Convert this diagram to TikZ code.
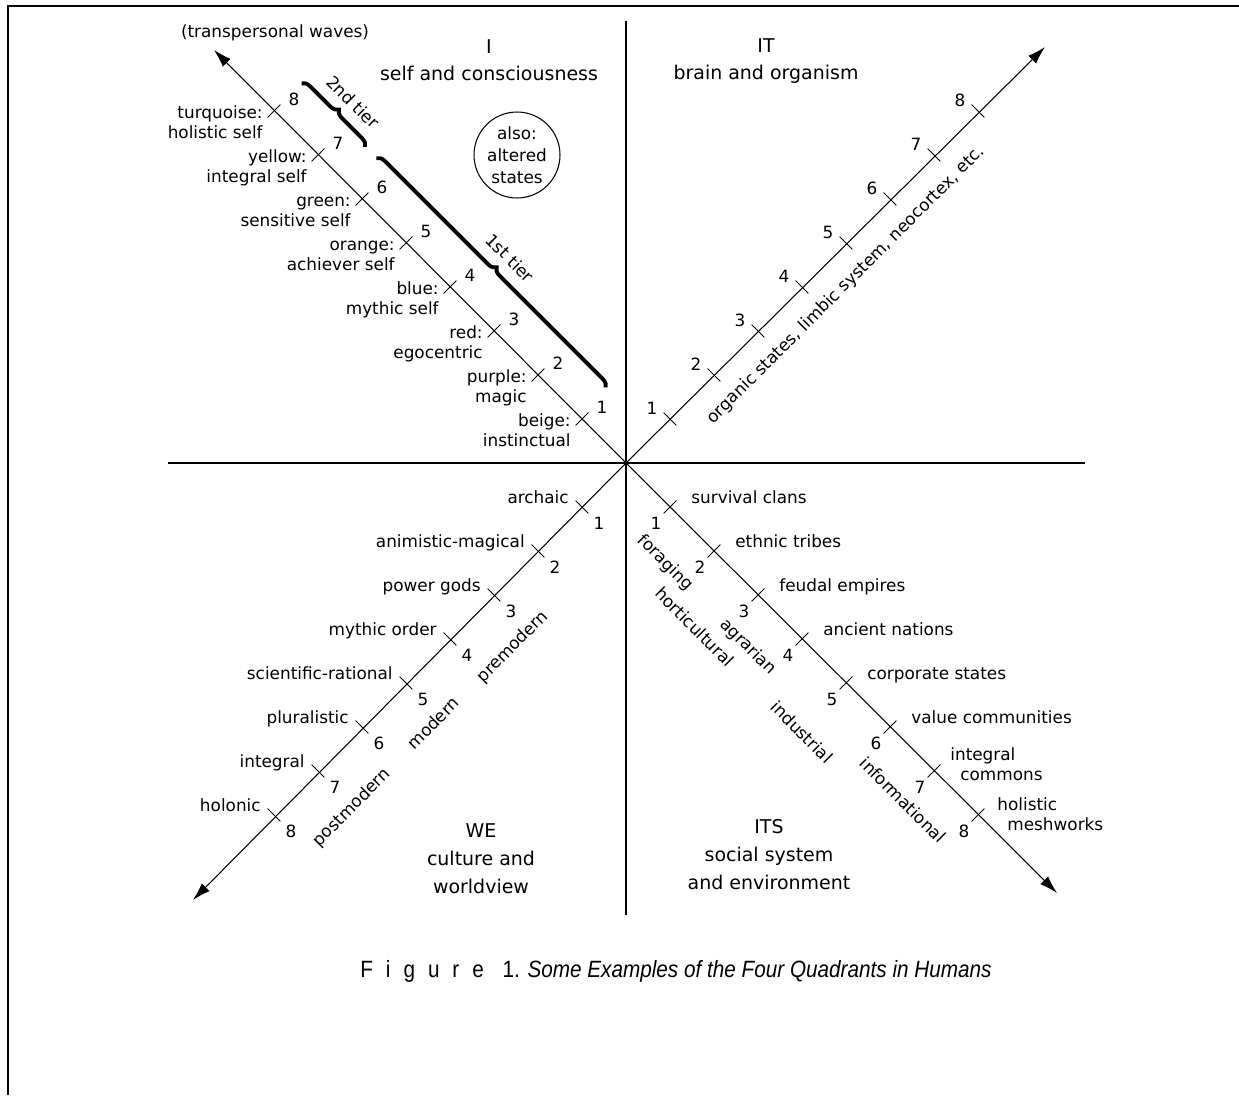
\documentclass[tikz,border=0pt]{standalone}
\usepackage{fontspec}
\setmainfont{DejaVu Sans}
\newfontfamily\capfont[FakeStretch=0.88]{Liberation Sans}
\usetikzlibrary{arrows.meta,positioning,calc,decorations.pathreplacing}

\begin{document}
\begin{tikzpicture}[
    x=0.02cm, y=-0.02cm,
    every node/.style={font=\fontsize{9.6}{11.3}\selectfont, inner sep=0pt},
    frame/.style={line width=1.4pt},
    axis/.style={line width=0.6pt},
    wave/.style={line width=0.6pt, -{Latex[length=3.6mm,width=2.2mm]}},
    tickmark/.style={line width=0.5pt},
    title/.style={align=center, anchor=base, font=\fontsize{10.8}{15.9}\selectfont},
    era/.style={anchor=center},
    tier/.style={line width=2.2pt, decorate, decoration={brace, amplitude=4.5pt}}
]
\useasboundingbox (0,0) rectangle (1239,1095);
\draw[frame] (8,1095) -- (8,6) -- (1239,6);

% quadrant axes
\coordinate (O) at (626,463);
\coordinate (top) at (626,21);
\coordinate (bottom) at (626,915);
\coordinate (left) at (168,463);
\coordinate (right) at (1085,463);
\coordinate (ulend) at (214,50);
\coordinate (urend) at (1045,47);
\coordinate (llend) at (193,900);
\coordinate (lrend) at (1057,893);
\draw[axis] (top) -- (bottom);
\draw[axis] (left) -- (right);
\foreach \e in {ulend,urend,llend,lrend}
    \draw[wave] (O) -- (\e);

% levels 1 to 8 on each line
\foreach \k in {1,...,8} {
    \coordinate (ul\k) at ({626-44*\k},{463-44*\k});
    \coordinate (ur\k) at ({626+44*\k},{463-44*\k});
    \coordinate (ll\k) at ({626-44*\k},{463+44*\k});
    \coordinate (lr\k) at ({626+44*\k},{463+44*\k});
    \draw[tickmark] ($(ul\k)+(-6.4,6.4)$) -- ($(ul\k)+(6.4,-6.4)$);
    \draw[tickmark] ($(ur\k)+(-6.4,-6.4)$) -- ($(ur\k)+(6.4,6.4)$);
    \draw[tickmark] ($(ll\k)+(-6.4,-6.4)$) -- ($(ll\k)+(6.4,6.4)$);
    \draw[tickmark] ($(lr\k)+(-6.4,6.4)$) -- ($(lr\k)+(6.4,-6.4)$);
    \node (uln\k) at ($(ul\k)+(20,-12)$) {\k};
    \node (urn\k) at ($(ur\k)+(-18,-11)$) {\k};
    \node (lln\k) at ($(ll\k)+(17,16)$) {\k};
    \node (lrn\k) at ($(lr\k)+(-14,16)$) {\k};
}

% I: self
\node[title] (iname) at (489,81) {I\\self and consciousness};
\node[anchor=base] (transp) at (275,38) {(transpersonal waves)};
\node[draw, circle, minimum size=1.72cm, align=center, line width=0.6pt,
      font=\fontsize{9.6}{12.5}\selectfont] (altered) at (517,155) {also:\\altered\\states};
\foreach \k/\col/\self in {1/beige:/instinctual, 2/purple:/magic, 3/red:/egocentric,
    4/blue:/mythic self, 5/orange:/achiever self, 6/green:/sensitive self,
    7/yellow:/integral self, 8/turquoise:/holistic self}
    \node[align=right, anchor=base east] (ull\k) at ($(ul\k)+(-11,27)$) {\col\\\self};
\coordinate (t2a) at (301.6,83.4);
\coordinate (t2b) at (365,146.8);
\coordinate (t1a) at (376.4,158.2);
\coordinate (t1b) at (605.6,387.4);
\draw[tier] (t2a) -- (t2b);
\draw[tier] (t1a) -- (t1b);
\node[rotate=-45] (tier2) at (353,102) {2nd tier};
\node[rotate=-45] (tier1) at (510,258) {1st tier};

% IT: brain
\node[title] (itname) at (766,80) {IT\\brain and organism};
\node[rotate=45] (organic) at (846,285) {organic states, limbic system, neocortex, etc.};

% WE: culture
\node[title] (wename) at (481,893) {WE\\culture and\\worldview};
\foreach \k/\txt in {1/archaic, 2/animistic-magical, 3/power gods, 4/mythic order,
    5/scientific-rational, 6/pluralistic, 7/integral, 8/holonic}
    \node[anchor=base east] (lll\k) at ($(ll\k)+(-13,-4)$) {\txt};
\node[era, rotate=45] (premodern) at (513,647) {premodern};
\node[era, rotate=45] (modern) at (433,723) {modern};
\node[era, rotate=45] (postmodern) at (352,808) {postmodern};

% ITS: social
\node[title] (itsname) at (769,889) {ITS\\social system\\and environment};
\foreach \k/\txt in {1/survival clans, 2/ethnic tribes, 3/feudal empires,
    4/ancient nations, 5/corporate states, 6/value communities}
    \node[anchor=base west] (lrl\k) at ($(lr\k)+(21,-4)$) {\txt};
\node[align=left, anchor=base west] (lrl7) at ($(lr7)+(16,9)$) {integral\\\hspace*{0.2cm}commons};
\node[align=left, anchor=base west] (lrl8) at ($(lr8)+(19,15)$) {holistic\\\hspace*{0.2cm}meshworks};
\node[era, rotate=-45] (foraging) at (665,563) {foraging};
\node[era, rotate=-45] (horti) at (695,627) {horticultural};
\node[era, rotate=-45] (agrarian) at (748,647) {agrarian};
\node[era, rotate=-45] (industrial) at (802,732) {industrial};
\node[era, rotate=-45] (info) at (903,800) {informational};

% caption
\node[anchor=base, font=\capfont\fontsize{13.4}{16}\selectfont] (caption) at (676,977)
    {{\addfontfeatures{LetterSpace=55}Figure 1}. {\itshape Some Examples of the Four Quadrants in Humans}};
\end{tikzpicture}
\end{document}
